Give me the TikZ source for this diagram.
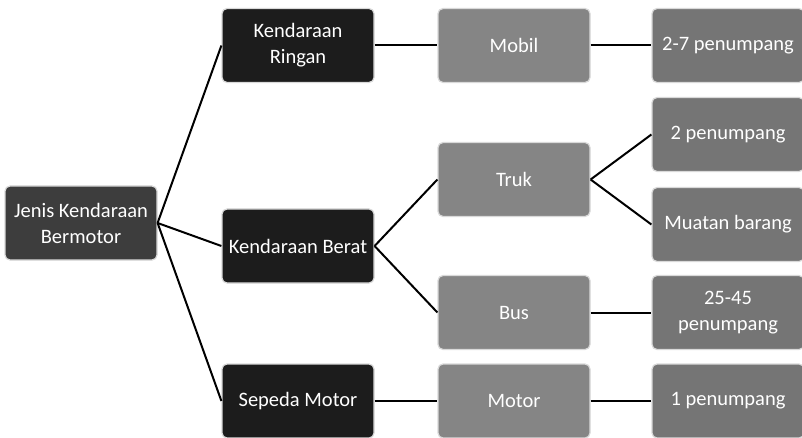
\documentclass[tikz,border=0pt]{standalone}
\usepackage{fontspec}
\setmainfont{Carlito}
\begin{document}
\begin{tikzpicture}[x=1pt,y=-1pt,
  box/.style={draw=black!15, line width=1.2pt, rounded corners=5pt, minimum width=152pt, minimum height=74pt, align=center, text=white, font=\fontsize{20.5}{26}\selectfont, inner sep=2pt},
  rootbox/.style={box, fill=black!76},
  lvone/.style={box, fill=black!89},
  lvtwo/.style={box, fill=black!48},
  lvthree/.style={box, fill=black!54},
  link/.style={draw=black, line width=2pt}]
\useasboundingbox (0,0) rectangle (802,438);
\clip (0,0) rectangle (802,438);
\node[rootbox] (root) at (81,223) {Jenis Kendaraan\\Bermotor};
\node[lvone] (kr) at (298,45.5) {Kendaraan\\Ringan};
\node[lvone] (kb) at (298,246) {Kendaraan Berat};
\node[lvone] (sm) at (298,401) {Sepeda Motor};
\node[lvtwo] (mobil) at (514,45.5) {Mobil};
\node[lvtwo] (truk) at (514,179.5) {Truk};
\node[lvtwo] (bus) at (514,312.5) {Bus};
\node[lvtwo] (motor) at (514,401) {Motor};
\node[lvthree] (p27) at (728,45.5) {2-7 penumpang};
\node[lvthree] (p2) at (728,134.5) {2 penumpang};
\node[lvthree] (mb) at (728,224.5) {Muatan barang};
\node[lvthree] (p2545) at (728,312.5) {25-45\\penumpang};
\node[lvthree] (p1) at (728,401) {1 penumpang};
\draw[link] (root.east) -- (kr.west);
\draw[link] (root.east) -- (kb.west);
\draw[link] (root.east) -- (sm.west);
\draw[link] (kr.east) -- (mobil.west);
\draw[link] (kb.east) -- (truk.west);
\draw[link] (kb.east) -- (bus.west);
\draw[link] (sm.east) -- (motor.west);
\draw[link] (mobil.east) -- (p27.west);
\draw[link] (truk.east) -- (p2.west);
\draw[link] (truk.east) -- (mb.west);
\draw[link] (bus.east) -- (p2545.west);
\draw[link] (motor.east) -- (p1.west);
\end{tikzpicture}
\end{document}
